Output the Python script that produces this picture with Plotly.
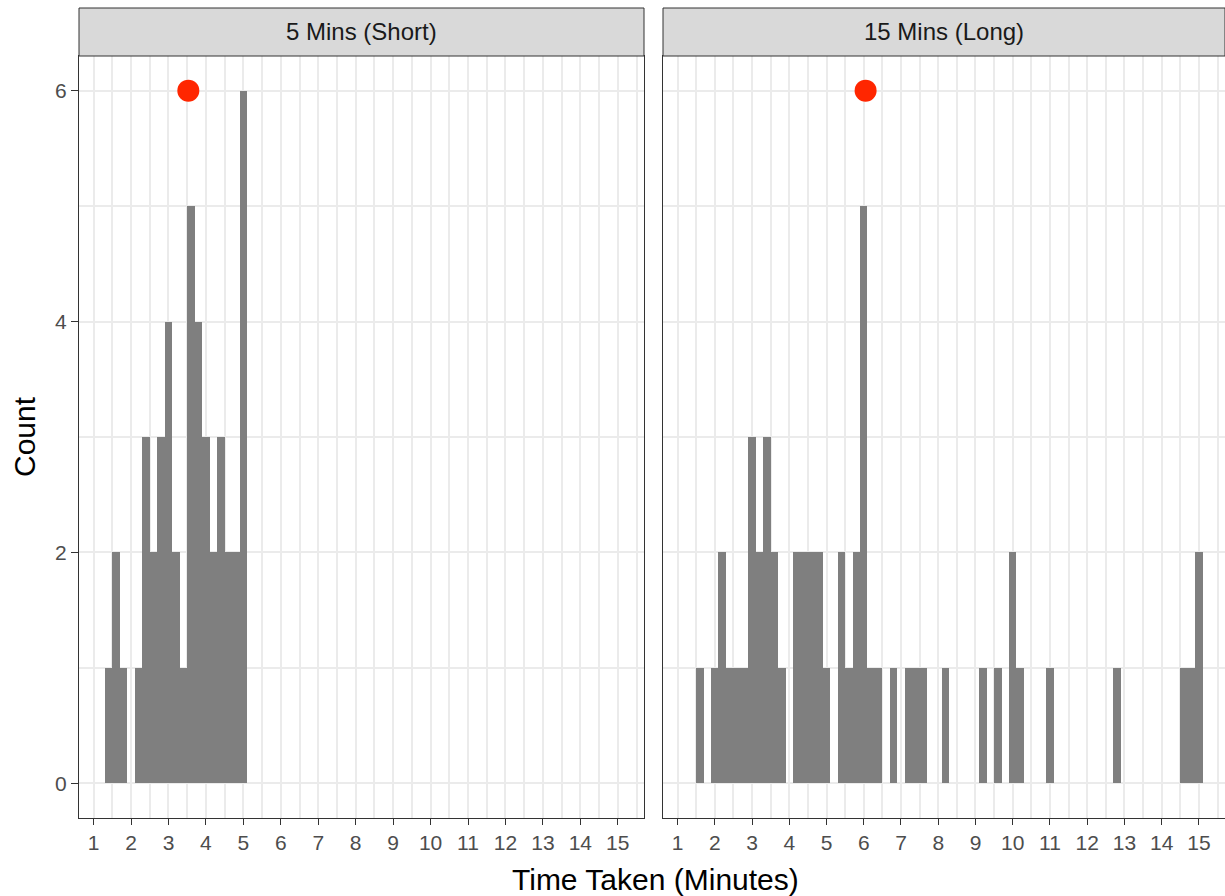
import plotly.graph_objects as go

# ---- data ----
panel_titles = ["5 Mins (Short)", "15 Mins (Long)"]

short_bin_centers = [1.4, 1.6, 1.8, 2.0, 2.2, 2.4, 2.6, 2.8, 3.0, 3.2, 3.4, 3.6, 3.8,
                     4.0, 4.2, 4.4, 4.6, 4.8, 5.0]
short_counts = [1, 2, 1, 0, 1, 3, 2, 3, 4, 2, 1, 5, 4, 3, 2, 3, 2, 2, 6]

long_bin_centers = [1.6, 2.0, 2.2, 2.4, 2.6, 2.8, 3.0, 3.2, 3.4, 3.6, 3.8, 4.2, 4.4, 4.6,
                    4.8, 5.0, 5.4, 5.6, 5.8, 6.0, 6.2, 6.4, 6.8, 7.2, 7.4, 7.6, 8.2, 9.2,
                    9.6, 10.0, 10.2, 11.0, 12.8, 14.6, 14.8, 15.0]
long_counts = [1, 1, 2, 1, 1, 1, 3, 2, 3, 2, 1, 2, 2, 2, 2, 1, 2, 1, 2, 5, 1, 1, 1, 1, 1,
               1, 1, 1, 1, 2, 1, 1, 1, 1, 1, 2]

bin_width = 0.2
mean_x = [3.53, 6.05]
mean_y = [6, 6]

x_ticks = list(range(1, 16))
y_ticks = [0, 2, 4, 6]

# ---- figure ----
W, H = 1225, 896
FONT = "Liberation Sans"
BAR = "#7F7F7F"
GRID = "#EBEBEB"
BORDER = "#333333"

fig = go.Figure()

fig.add_trace(go.Bar(x=short_bin_centers, y=short_counts, width=bin_width,
                     marker=dict(color=BAR, line=dict(width=0)),
                     xaxis="x", yaxis="y", showlegend=False, hoverinfo="x+y"))
fig.add_trace(go.Bar(x=long_bin_centers, y=long_counts, width=bin_width,
                     marker=dict(color=BAR, line=dict(width=0)),
                     xaxis="x2", yaxis="y2", showlegend=False, hoverinfo="x+y"))
fig.add_trace(go.Scatter(x=[mean_x[0]], y=[mean_y[0]], mode="markers",
                         marker=dict(color="#FF2600", size=22),
                         xaxis="x", yaxis="y", showlegend=False))
fig.add_trace(go.Scatter(x=[mean_x[1]], y=[mean_y[1]], mode="markers",
                         marker=dict(color="#FF2600", size=22),
                         xaxis="x2", yaxis="y2", showlegend=False))

def px_x(p):
    return p / W

def px_y(p):
    return 1 - p / H

panel_left = [(79, 644), (663, 1225)]
panel_top, panel_bot = 56, 818
strip_top = 8

xaxis_common = dict(
    range=[0.61, 15.7], tickvals=x_ticks, ticktext=[str(v) for v in x_ticks],
    showgrid=True, gridcolor=GRID, gridwidth=2,
    minor=dict(tick0=0.5, dtick=0.5, showgrid=True, gridcolor=GRID, gridwidth=1.5),
    showline=True, mirror=True, linecolor=BORDER, linewidth=1,
    ticks="outside", ticklen=6, tickwidth=1.3, tickcolor=BORDER,
    tickfont=dict(family=FONT, size=21, color="#4D4D4D"),
    zeroline=False, automargin=False, fixedrange=True,
)
yaxis_common = dict(
    range=[-0.3, 6.3], tickvals=y_ticks,
    showgrid=True, gridcolor=GRID, gridwidth=2,
    minor=dict(tick0=0, dtick=1, showgrid=True, gridcolor=GRID, gridwidth=1.5),
    showline=True, mirror=True, linecolor=BORDER, linewidth=1,
    zeroline=False, automargin=False, fixedrange=True,
    domain=[px_y(panel_bot), px_y(panel_top)],
)

fig.update_layout(
    width=W, height=H,
    margin=dict(l=0, r=0, t=0, b=0),
    paper_bgcolor="white", plot_bgcolor="white",
    bargap=0, barmode="overlay",
    xaxis=dict(domain=[px_x(panel_left[0][0]), px_x(panel_left[0][1])], anchor="y", **xaxis_common),
    xaxis2=dict(domain=[px_x(panel_left[1][0]), 1.0], anchor="y2", **xaxis_common),
    yaxis=dict(anchor="x", ticks="outside", ticklen=7, tickwidth=1.3, tickcolor=BORDER,
               tickfont=dict(family=FONT, size=21, color="#4D4D4D"), **yaxis_common),
    yaxis2=dict(anchor="x2", showticklabels=False, ticks="", matches="y", **yaxis_common),
    font=dict(family=FONT),
)

shapes = []
annotations = []
for (x0, x1), title in zip(panel_left, panel_titles):
    shapes.append(dict(type="rect", xref="paper", yref="paper",
                       x0=px_x(x0), x1=px_x(min(x1, W)), y0=px_y(panel_top), y1=px_y(strip_top),
                       fillcolor="#D9D9D9", line=dict(color=BORDER, width=1), layer="above"))
    annotations.append(dict(text=title, xref="paper", yref="paper",
                            x=px_x((x0 + x1) / 2), y=px_y((strip_top + panel_top) / 2),
                            xanchor="center", yanchor="middle", showarrow=False,
                            font=dict(family=FONT, size=24, color="#1A1A1A")))

annotations.append(dict(text="Time Taken (Minutes)", xref="paper", yref="paper",
                        x=px_x(655), y=px_y(879), xanchor="center", yanchor="middle",
                        showarrow=False, font=dict(family=FONT, size=30, color="black")))
annotations.append(dict(text="Count", xref="paper", yref="paper",
                        x=px_x(24), y=px_y(437), xanchor="center", yanchor="middle",
                        textangle=-90, showarrow=False,
                        font=dict(family=FONT, size=30, color="black")))

fig.update_layout(shapes=shapes, annotations=annotations)

fig.write_html("out.html")
